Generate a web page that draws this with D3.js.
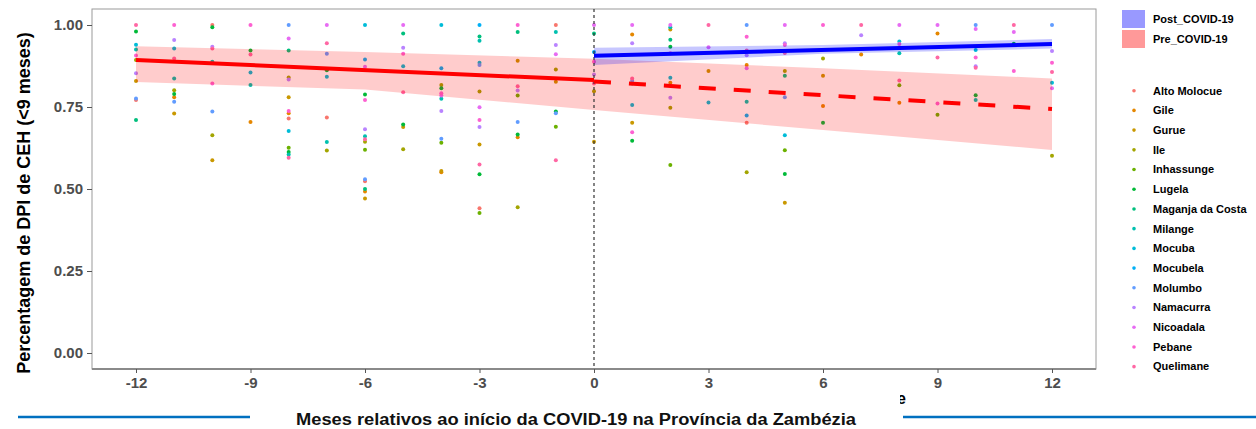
<!DOCTYPE html>
<html>
<head>
<meta charset="utf-8">
<script src="https://cdn.jsdelivr.net/npm/d3@7"></script>
<style>
  body { margin: 0; background: #fff; }
  svg { display: block; }
  text { font-family: "Liberation Sans", Arial, sans-serif; }
</style>
</head>
<body>
<div id="chart"></div>
<script>
// months relative to COVID-19 start
const months = [-12, -11, -10, -9, -8, -7, -6, -5, -4, -3, -2, -1, 0, 1, 2, 3, 4, 5, 6, 7, 8, 9, 10, 11, 12];
const xTicks = [-12, -9, -6, -3, 0, 3, 6, 9, 12];
const yTicks = [0, 0.25, 0.5, 0.75, 1];

const districts = ["Alto Molocue", "Gile", "Gurue", "Ile", "Inhassunge", "Lugela", "Maganja da Costa",
  "Milange", "Mocuba", "Mocubela", "Molumbo", "Namacurra", "Nicoadala", "Pebane", "Quelimane"];
const districtColors = ["#F8766D", "#E58700", "#C99800", "#A3A500", "#6BB100", "#00BA38", "#00BF7D",
  "#00C0AF", "#00BCD8", "#00B0F6", "#619CFF", "#B983FF", "#E76BF3", "#FD61D1", "#FF67A4"];

// monthly percentage per district (null = hidden / no point)
const pct = [
  [0.771, null, 1.00, null, 0.715, 0.718, 0.524, null, null, 0.441, null, 1.00, null, null, null, null, 0.702, null, null, null, null, null, null, null, null],
  [null, 0.78, null, 0.704, 0.731, null, 0.492, null, 0.551, null, 0.658, null, null, 0.971, 0.824, null, 0.878, null, 0.753, 0.910, 0.763, 0.974, null, null, null],
  [0.829, 0.73, 0.588, null, 0.780, null, 0.471, 0.689, 0.555, 0.636, 0.891, 0.827, 0.644, 0.702, 0.986, 0.860, null, 0.458, 0.845, null, null, null, null, null, null],
  [0.893, 0.801, 0.664, null, 0.840, 0.617, 0.644, 0.621, 0.817, 0.797, 0.444, 0.864, 0.798, null, 0.748, null, 0.551, 0.860, 0.898, null, null, null, null, null, 0.601],
  [null, null, null, null, 0.626, null, 0.620, null, 0.641, 0.427, 0.785, 0.690, null, null, 0.573, null, null, 0.618, null, null, 0.816, 0.726, null, null, null],
  [0.98, 0.79, 0.993, 0.922, 0.613, 0.862, 0.788, 0.697, 0.807, 0.545, 0.666, 0.736, null, 0.647, 0.934, null, null, 0.546, 0.702, null, null, null, 0.786, 0.943, null],
  [0.71, null, null, null, 0.922, null, 0.500, 0.974, null, 0.965, 0.979, null, 0.974, null, 0.955, null, null, 0.845, null, null, null, null, null, null, null],
  [0.925, 0.837, 0.888, 0.817, 0.605, 0.643, 0.661, null, 0.775, 0.952, null, 0.979, null, null, 0.993, null, 0.766, null, null, null, 0.914, null, 0.771, null, null],
  [0.94, 0.928, null, 0.855, 0.677, 0.842, 1.00, 0.874, 1.00, 0.885, null, null, null, 0.756, 0.839, 0.764, null, 0.664, null, null, 0.950, null, 0.924, null, 0.824],
  [null, null, null, null, null, null, 0.895, null, 0.868, 1.00, null, null, 0.918, 0.822, null, null, 0.724, null, null, null, null, null, null, null, null],
  [0.776, 0.766, 0.736, null, 1.00, 0.912, 0.530, null, 0.653, 0.878, 0.704, 0.731, null, 0.830, null, null, 1.00, 0.780, null, null, null, null, 1.00, null, 1.00],
  [0.853, 0.954, 0.934, null, 0.834, null, 0.682, 0.931, 0.738, 0.689, 0.800, 0.939, 0.849, 0.944, 0.778, null, 0.908, 0.944, null, 0.969, null, null, 0.874, null, 0.921],
  [null, null, null, null, 0.959, 1.00, 0.873, 1.00, 0.785, 0.749, null, 0.911, 1.00, 1.00, 1.00, 0.932, 0.868, 1.00, null, null, 1.00, 1.00, 0.988, 0.979, 0.807],
  [0.907, 1.00, 0.822, 1.00, 0.738, null, 0.771, 0.912, 0.792, 0.710, 1.00, null, 0.888, 0.673, 0.914, null, 0.964, 0.939, 1.00, null, 0.942, 0.761, 0.901, 0.860, 0.885],
  [1.00, 0.898, 0.928, 0.91, 0.595, 0.944, 0.652, 0.795, null, 0.575, 0.813, 0.588, 0.822, 0.837, null, 1.00, 0.922, 0.915, null, 1.00, 0.831, 0.901, 0.870, 1.00, 0.857]
];

// fitted trends
const preFitMonths = [-12, 0];
const preFit = [0.893, 0.832];
const counterMonths = [0, 12];
const counterFit = [0.828, 0.744];
const postFitMonths = [0, 12];
const postFit = [0.906, 0.942];

// confidence bands
const preBandMonths = [-12, -6, 0, 6, 12];
const preBandLow = [0.826, 0.803, 0.741, 0.680, 0.619];
const preBandHigh = [0.935, 0.918, 0.897, 0.868, 0.837];
const postBandMonths = [0, 6, 12];
const postBandLow = [0.878, 0.912, 0.928];
const postBandHigh = [0.931, 0.939, 0.957];

const legendGroups = ["Post_COVID-19", "Pre_COVID-19"];

const W = 1256, H = 429;
const panel = { left: 92, right: 1096, top: 9, bottom: 369 };

const svg = d3.select("#chart").append("svg")
  .attr("width", W)
  .attr("height", H);

const x = d3.scaleLinear().domain([-12, 12]).range([136, 1052]);
const y = d3.scaleLinear().domain([0, 1]).range([353, 25]);

// panel
svg.append("rect")
  .attr("x", panel.left).attr("y", panel.top)
  .attr("width", panel.right - panel.left).attr("height", panel.bottom - panel.top)
  .attr("fill", "#fff").attr("stroke", "#9a9a9a").attr("stroke-width", 1);

// x axis
const xAxis = svg.append("g")
  .attr("transform", `translate(0,${panel.bottom})`)
  .call(d3.axisBottom(x).tickValues(xTicks).tickSize(4).tickFormat(d3.format("d")));
xAxis.select(".domain").attr("stroke", "#8a8a8a").attr("stroke-width", 2)
  .attr("d", `M${panel.left},0H${panel.right}`);
xAxis.selectAll(".tick line").attr("stroke", "#555");
xAxis.selectAll(".tick text")
  .attr("dy", "0.9em").attr("y", 5)
  .attr("fill", "#4d4d4d").attr("font-size", 15).attr("font-weight", "bold")
  .text(d => d < 0 ? "-" + Math.abs(d) : d);

// y axis
const yAxis = svg.append("g")
  .attr("transform", `translate(${panel.left},0)`)
  .call(d3.axisLeft(y).tickValues(yTicks).tickSize(5).tickFormat(d3.format(".2f")));
yAxis.select(".domain").remove();
yAxis.selectAll(".tick line").attr("stroke", "#555");
yAxis.selectAll(".tick text")
  .attr("x", -9)
  .attr("fill", "#4d4d4d").attr("font-size", 15).attr("font-weight", "bold");

// points
const pts = [];
pct.forEach((row, i) => row.forEach((v, j) => {
  if (v !== null) pts.push({ d: i, m: months[j], v: v });
}));
svg.append("g").selectAll("circle")
  .data(pts)
  .join("circle")
  .attr("cx", d => x(d.m))
  .attr("cy", d => y(d.v))
  .attr("r", 2)
  .attr("fill", d => districtColors[d.d]);

// bands
const band = (ms, lo, hi) => d3.area()
  .x((d, i) => x(ms[i]))
  .y0((d, i) => y(lo[i]))
  .y1((d, i) => y(hi[i]))(ms);

svg.append("path")
  .attr("d", band(preBandMonths, preBandLow, preBandHigh))
  .attr("fill", "red").attr("opacity", 0.2);
svg.append("path")
  .attr("d", band(postBandMonths, postBandLow, postBandHigh))
  .attr("fill", "blue").attr("opacity", 0.22);

// vertical line at COVID-19 start
svg.append("line")
  .attr("x1", x(0)).attr("x2", x(0))
  .attr("y1", panel.top).attr("y2", panel.bottom)
  .attr("stroke", "#333").attr("stroke-width", 1.2)
  .attr("stroke-dasharray", "3,3");

// fitted lines
const fitLine = (ms, vs) => d3.line().x((d, i) => x(ms[i])).y((d, i) => y(vs[i]))(ms);

svg.append("path")
  .attr("d", fitLine(preFitMonths, preFit))
  .attr("fill", "none").attr("stroke", "red").attr("stroke-width", 4);
svg.append("path")
  .attr("d", fitLine(counterMonths, counterFit))
  .attr("fill", "none").attr("stroke", "red").attr("stroke-width", 4)
  .attr("stroke-dasharray", "17,18");
svg.append("path")
  .attr("d", fitLine(postFitMonths, postFit))
  .attr("fill", "none").attr("stroke", "blue").attr("stroke-width", 4);

// legend: bands
const legend = svg.append("g");
const bandColors = ["blue", "red"];
legendGroups.forEach((g, i) => {
  legend.append("rect")
    .attr("x", 1122).attr("y", 10 + i * 20)
    .attr("width", 23).attr("height", 18)
    .attr("fill", bandColors[i]).attr("opacity", 0.4);
  legend.append("text")
    .attr("x", 1153).attr("y", 19 + i * 20)
    .attr("dy", "0.35em")
    .attr("font-size", 11).attr("font-weight", "bold")
    .text(g);
});

// legend: districts
districts.forEach((dname, i) => {
  const ly = 90.7 + i * 19.71;
  legend.append("circle")
    .attr("cx", 1134).attr("cy", ly).attr("r", 1.8)
    .attr("fill", districtColors[i]);
  legend.append("text")
    .attr("x", 1153).attr("y", ly)
    .attr("dy", "0.35em")
    .attr("font-size", 11).attr("font-weight", "bold")
    .text(dname);
});

// y title
svg.append("text")
  .attr("transform", "translate(30,203) rotate(-90)")
  .attr("text-anchor", "middle")
  .attr("font-size", 18).attr("font-weight", "bold")
  .attr("fill", "#000")
  .text("Percentagem de DPI de CEH (<9 meses)");

// remnant of the original axis title
svg.append("clipPath").attr("id", "eclip")
  .append("rect").attr("x", 900).attr("y", 385).attr("width", 20).attr("height", 25);
svg.append("text")
  .attr("clip-path", "url(#eclip)")
  .attr("x", 897).attr("y", 404)
  .attr("font-size", 16).attr("font-weight", "bold")
  .text("e");

// caption lines and x title
svg.append("line").attr("x1", 18).attr("x2", 250).attr("y1", 417).attr("y2", 417)
  .attr("stroke", "#0070C0").attr("stroke-width", 2.3);
svg.append("line").attr("x1", 903).attr("x2", 1256).attr("y1", 417).attr("y2", 417)
  .attr("stroke", "#0070C0").attr("stroke-width", 2.3);
svg.append("text")
  .attr("x", 296).attr("y", 425)
  .attr("textLength", 560).attr("lengthAdjust", "spacingAndGlyphs")
  .attr("font-family", "'Liberation Sans Narrow', 'Liberation Sans', sans-serif")
  .attr("font-size", 16).attr("font-weight", "bold")
  .attr("fill", "#111")
  .text("Meses relativos ao início da COVID-19 na Província da Zambézia");
</script>
</body>
</html>
